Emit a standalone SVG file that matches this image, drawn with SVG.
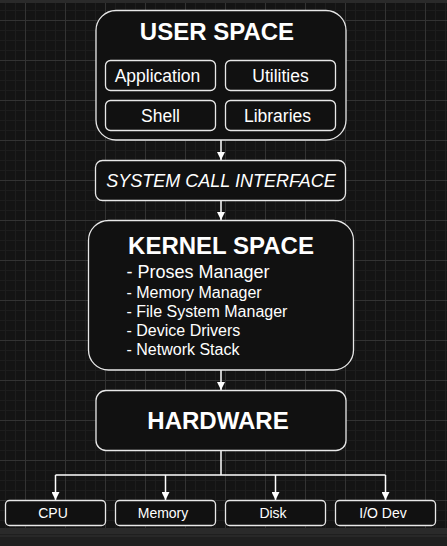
<svg xmlns="http://www.w3.org/2000/svg" width="447" height="546" viewBox="0 0 447 546">
<defs>
<pattern id="minor" x="5" y="0" width="10" height="10" patternUnits="userSpaceOnUse">
<path d="M0 0.5H10M0.5 0V10" fill="none" stroke="#1d1d1d" stroke-width="1"/>
</pattern>
<pattern id="major" x="25" y="20" width="40" height="40" patternUnits="userSpaceOnUse">
<path d="M0 0.5H40M0.5 0V40" fill="none" stroke="#333333" stroke-width="1"/>
</pattern>
<marker id="arr" viewBox="0 0 10 10" refX="10" refY="5" markerWidth="8" markerHeight="8" markerUnits="userSpaceOnUse" orient="auto">
<path d="M0 0L10 5L0 10z" fill="#ffffff"/>
</marker>
<style>
.box{fill:#111111;stroke:#e8e8e8;stroke-width:1.3}
.t{fill:#ffffff;font-family:"Liberation Sans",Arial,sans-serif}
.title{font-weight:bold;font-size:24px;text-anchor:middle}
.sub{font-size:17.5px;text-anchor:middle}
.item{font-size:16px}
.small{font-size:14px;text-anchor:middle}
.wire{fill:none;stroke:#ffffff;stroke-width:1.5}
</style>
</defs>
<rect width="447" height="546" fill="#141414"/>
<rect width="447" height="546" fill="url(#minor)"/>
<rect width="447" height="546" fill="url(#major)"/>
<rect width="447" height="3" fill="#2a2a2a"/>
<rect y="528" width="447" height="18" fill="#1f1f1f"/>
<rect y="528" width="447" height="6" fill="#2a2a2a"/>
<rect y="535.5" width="447" height="1" fill="#333333"/>

<g id="connectors">
<path class="wire" d="M221 140V160" marker-end="url(#arr)"/>
<path class="wire" d="M221 200V220" marker-end="url(#arr)"/>
<path class="wire" d="M221 370V390" marker-end="url(#arr)"/>
<path class="wire" d="M221 450V475" stroke-width="2"/>
<path class="wire" d="M55.5 475H385.5"/>
<path class="wire" d="M55.5 475V500" marker-end="url(#arr)"/>
<path class="wire" d="M165.5 475V500" marker-end="url(#arr)"/>
<path class="wire" d="M275.5 475V500" marker-end="url(#arr)"/>
<path class="wire" d="M385.5 475V500" marker-end="url(#arr)"/>
</g>

<g id="user-space">
<rect class="box" x="96" y="10.5" width="250" height="129.5" rx="20"/>
<text class="t title" x="217" y="40">USER SPACE</text>
</g>
<g id="application">
<rect class="box" x="105.5" y="60.5" width="110" height="30" rx="5"/>
<text class="t sub" x="157.5" y="81.5">Application</text>
</g>
<g id="utilities">
<rect class="box" x="225.5" y="60.5" width="110" height="30" rx="5"/>
<text class="t sub" x="280.5" y="81.5">Utilities</text>
</g>
<g id="shell">
<rect class="box" x="105.5" y="100.5" width="110" height="30" rx="5"/>
<text class="t sub" x="160.5" y="121.5">Shell</text>
</g>
<g id="libraries">
<rect class="box" x="225.5" y="100.5" width="110" height="30" rx="5"/>
<text class="t sub" x="277.5" y="121.5">Libraries</text>
</g>

<g id="syscall">
<rect class="box" x="95.5" y="160.5" width="250" height="40" rx="7"/>
<text class="t" x="221" y="187" font-size="18" font-style="italic" text-anchor="middle">SYSTEM CALL INTERFACE</text>
</g>

<g id="kernel-space">
<rect class="box" x="88.5" y="220.5" width="265" height="149.5" rx="20"/>
<text class="t title" x="221" y="253.5">KERNEL SPACE</text>
<text class="t" x="126.5" y="278" font-size="18">- Proses Manager</text>
<text class="t item" x="126.5" y="297.5">- Memory Manager</text>
<text class="t item" x="126.5" y="316.5">- File System Manager</text>
<text class="t item" x="126.5" y="335.5">- Device Drivers</text>
<text class="t item" x="126.5" y="354.5">- Network Stack</text>
</g>

<g id="hardware">
<rect class="box" x="96" y="390.5" width="250" height="60" rx="10"/>
<text class="t title" x="218" y="428.5">HARDWARE</text>
</g>

<g id="cpu">
<rect class="box" x="5.5" y="500.5" width="100" height="25" rx="4"/>
<text class="t small" x="53" y="518">CPU</text>
</g>
<g id="memory">
<rect class="box" x="115.5" y="500.5" width="100" height="25" rx="4"/>
<text class="t small" x="163" y="518">Memory</text>
</g>
<g id="disk">
<rect class="box" x="225.5" y="500.5" width="100" height="25" rx="4"/>
<text class="t small" x="273" y="518">Disk</text>
</g>
<g id="io-dev">
<rect class="box" x="335.5" y="500.5" width="100" height="25" rx="4"/>
<text class="t small" x="383" y="518">I/O Dev</text>
</g>
</svg>
